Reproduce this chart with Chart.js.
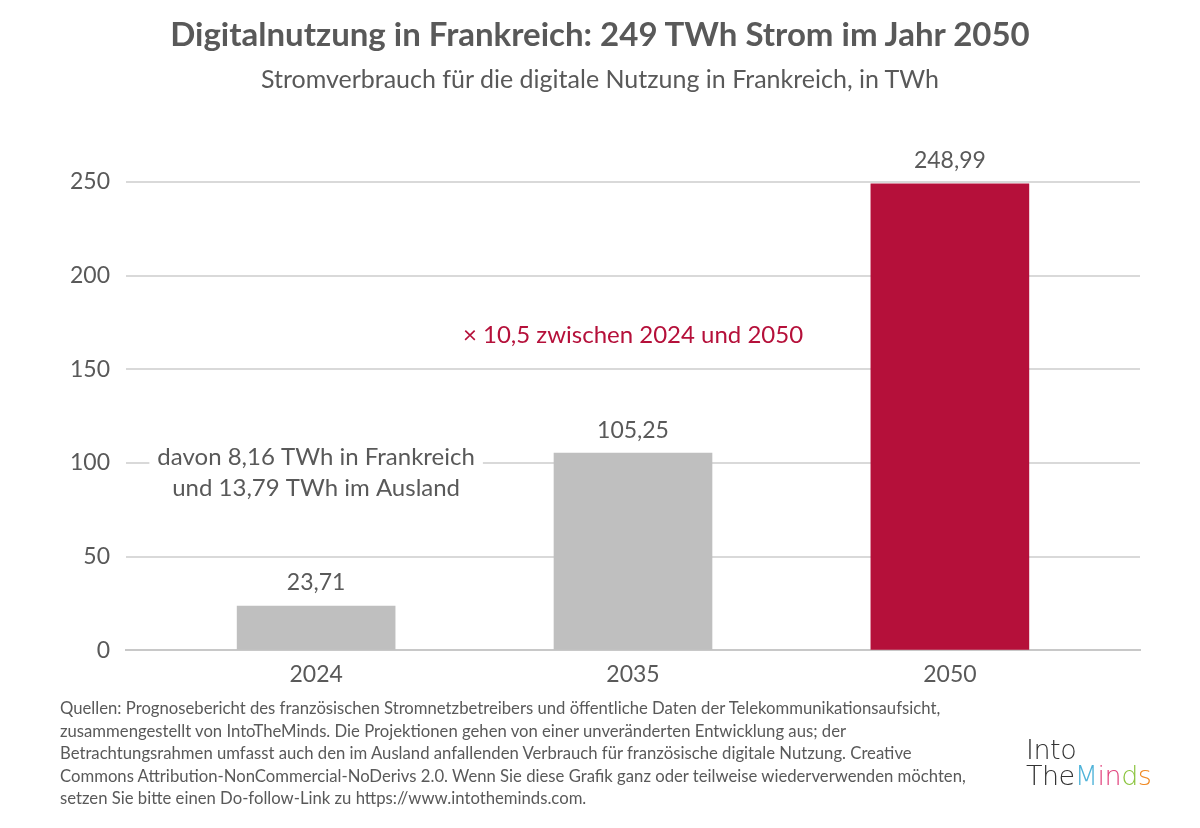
<!DOCTYPE html>
<html>
<head>
<meta charset="utf-8">
<script src="https://cdn.jsdelivr.net/npm/chart.js@4"></script>
<style>
  html, body { margin: 0; padding: 0; background: #fff; }
  #wrap { position: relative; width: 1200px; height: 828px; font-family: Lato, sans-serif; color: #595959; }
  #chart { position: absolute; left: 0; top: 0; }
  .title { position: absolute; left: 0; width: 1200px; text-align: center; }
  #t1 { top: 13px; font-size: 33px; font-weight: bold; }
  #t2 { top: 63px; font-size: 25px; }
  #src { position: absolute; left: 60px; top: 697px; font-size: 16.7px; line-height: 22.5px; }
  #logo { position: absolute; left: 1026px; top: 737px; font-size: 27px; line-height: 26px; color: #333; font-family: "DejaVu Sans", sans-serif; font-weight: 300; letter-spacing: -0.5px; }
</style>
</head>
<body>
<div id="wrap">
  <canvas id="chart" width="1200" height="828"></canvas>
  <div class="title" id="t1">Digitalnutzung in Frankreich: 249 TWh Strom im Jahr 2050</div>
  <div class="title" id="t2">Stromverbrauch für die digitale Nutzung in Frankreich, in TWh</div>
  <div id="src">Quellen: Prognosebericht des französischen Stromnetzbetreibers und öffentliche Daten der Telekommunikationsaufsicht,<br>
zusammengestellt von IntoTheMinds. Die Projektionen gehen von einer unveränderten Entwicklung aus; der<br>
Betrachtungsrahmen umfasst auch den im Ausland anfallenden Verbrauch für französische digitale Nutzung. Creative<br>
Commons Attribution-NonCommercial-NoDerivs 2.0. Wenn Sie diese Grafik ganz oder teilweise wiederverwenden möchten,<br>
setzen Sie bitte einen Do-follow-Link zu https://www.intotheminds.com.</div>
  <div id="logo">Into<br>The<span style="color:#4fb3d9">M</span><span style="color:#e2457f">i</span><span style="color:#e2457f">n</span><span style="color:#8cc540">d</span><span style="color:#f08a24">s</span></div>
</div>
<script>
var years = ['2024', '2035', '2050'];
var consumption = [23.71, 105.25, 248.99];
var bar_colors = ['#bfbfbf', '#bfbfbf', '#b5103a'];
var y_ticks = [0, 50, 100, 150, 200, 250];

var note_growth = '× 10,5 zwischen 2024 und 2050';
var note_2024 = ['davon 8,16 TWh in Frankreich', 'und 13,79 TWh im Ausland'];

function fmt(v) {
    return v.toFixed(2).replace('.', ',');
}

function note_box(chart) {
    var xs = chart.scales.x, ys = chart.scales.y;
    var ctx = chart.ctx;
    ctx.font = '24px Lato';
    var w = Math.max(ctx.measureText(note_2024[0]).width, ctx.measureText(note_2024[1]).width);
    return {
        cx: xs.getPixelForValue(0),
        y1: ys.getPixelForValue(103.1),
        y2: ys.getPixelForValue(86.5),
        w: w
    };
}

var labels_plugin = {
    id: 'labels',
    beforeDatasetsDraw(chart) {
        // white box hides the gridline behind the 2024 note
        var ctx = chart.ctx, b = note_box(chart);
        ctx.save();
        ctx.fillStyle = '#fff';
        ctx.fillRect(b.cx - b.w / 2 - 8, b.y1 - 14, b.w + 16, b.y2 - b.y1 + 28);
        ctx.restore();
    },
    afterDatasetsDraw(chart) {
        var ctx = chart.ctx;
        var xs = chart.scales.x, ys = chart.scales.y;
        ctx.save();
        ctx.textAlign = 'center';
        ctx.textBaseline = 'middle';
        ctx.font = '23px Lato';
        ctx.fillStyle = '#595959';
        chart.getDatasetMeta(0).data.forEach(function(bar, i) {
            ctx.fillText(fmt(consumption[i]), bar.x, bar.y - 23);
        });

        ctx.font = '24px Lato';
        ctx.fillStyle = '#b5103a';
        ctx.fillText(note_growth, xs.getPixelForValue(1), ys.getPixelForValue(168.3));

        var b = note_box(chart);
        ctx.fillStyle = '#595959';
        ctx.fillText(note_2024[0], b.cx, b.y1);
        ctx.fillText(note_2024[1], b.cx, b.y2);
        ctx.restore();
    }
};

new Chart(document.getElementById('chart'), {
    type: 'bar',
    data: {
        datasets: [{
            data: consumption.map(function(v, i) { return {x: i, y: v}; }),
            backgroundColor: bar_colors,
            barThickness: 158,
            borderWidth: 0
        }]
    },
    options: {
        responsive: false,
        animation: false,
        layout: { padding: { top: 182, right: 60, bottom: 130, left: 0 } },
        plugins: { legend: { display: false }, tooltip: { enabled: false } },
        scales: {
            x: {
                type: 'linear',
                min: -0.6,
                max: 2.6,
                offset: false,
                afterBuildTicks: function(scale) {
                    scale.ticks = years.map(function(y, i) { return {value: i}; });
                },
                ticks: {
                    callback: function(v) { return years[v]; },
                    font: { family: 'Lato', size: 23 },
                    color: '#595959',
                    padding: 10,
                    maxRotation: 0
                },
                grid: { display: false, drawTicks: false },
                border: { color: '#c8c8c8', width: 2 }
            },
            y: {
                min: 0,
                max: 250,
                afterBuildTicks: function(scale) {
                    scale.ticks = y_ticks.map(function(v) { return {value: v}; });
                },
                afterFit: function(scale) { scale.width = 126; },
                ticks: {
                    font: { family: 'Lato', size: 23 },
                    color: '#595959',
                    padding: 16
                },
                grid: { color: '#d9d9d9', lineWidth: 2, drawTicks: false },
                border: { display: false }
            }
        }
    },
    plugins: [labels_plugin]
});
</script>
</body>
</html>
